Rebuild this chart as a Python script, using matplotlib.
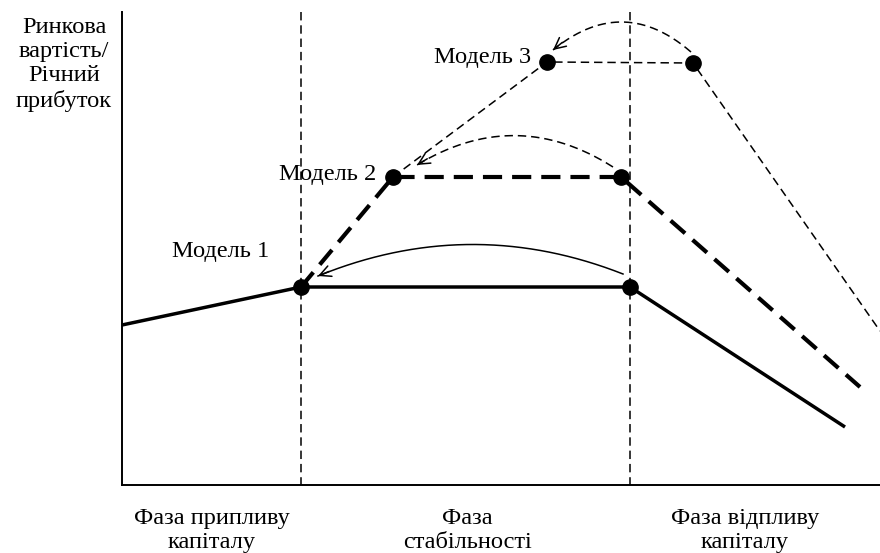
import numpy as np
import matplotlib
matplotlib.use("Agg")
import matplotlib.pyplot as plt

plt.rcParams['font.family'] = ['Liberation Serif', 'DejaVu Serif']

# ---- data (pixel-like schematic units, y grows downward) ----
phase_bounds = [301, 630]
m1_x = [122, 301, 630, 845]
m1_y = [325, 287, 287, 427]
m2_x = [301, 393, 621, 860]
m2_y = [287, 177, 177, 387]
m3_x = [393, 547, 693, 880]
m3_y = [177, 62, 63, 331]
m1_pts_x = [301, 630]
m1_pts_y = [287, 287]
m2_pts_x = [393, 621]
m2_pts_y = [177, 177]
m3_pts_x = [547, 693]
m3_pts_y = [62, 63]
# arcs: (x_start, y_start, x_end, y_end, rad)
arc1 = (623, 274, 318, 276, 0.20)
arc2 = (613, 167, 417, 165, 0.31)
arc3 = (691, 52, 553, 50, 0.42)
model_labels = ["Модель 1", "Модель 2", "Модель 3"]
model_label_x = [221, 328, 483]
model_label_y = [257, 180, 63]
phase_labels = ["Фаза припливу\nкапіталу", "Фаза\nстабільності", "Фаза відпливу\nкапіталу"]
phase_label_x = [212, 467, 745]
ylabel_text = "Ринкова\nвартість/\nРічний\nприбуток"

W, H = 880, 553
fig = plt.figure(figsize=(W / 100, H / 100), dpi=100)
x0, x1, y0, y1 = 122, 880, 12, 485
ax = fig.add_axes([x0 / W, 1 - y1 / H, (x1 - x0) / W, (y1 - y0) / H])
ax.set_xlim(x0, x1)
ax.set_ylim(y1, y0)
for s in ['top', 'right']:
    ax.spines[s].set_visible(False)
for s in ['left', 'bottom']:
    ax.spines[s].set_linewidth(1.4)
ax.set_xticks([])
ax.set_yticks([])

# phase boundaries
for xb in phase_bounds:
    ax.plot([xb, xb], [y0, y1], color='black', lw=1.1, dashes=(5.5, 3.2), clip_on=False)

# Model 1 solid
ax.plot(m1_x, m1_y, color='black', lw=2.5, solid_capstyle='butt', clip_on=False)
# Model 2 thick dashed
ax.plot(m2_x, m2_y, color='black', lw=3.0, dashes=(4.6, 2.4), clip_on=False)
# Model 3 thin dashed
ax.plot(m3_x, m3_y, color='black', lw=1.1, dashes=(5.5, 3.2), clip_on=False)

# points
for px, py in [(m1_pts_x, m1_pts_y), (m2_pts_x, m2_pts_y), (m3_pts_x, m3_pts_y)]:
    ax.plot(px, py, 'o', color='black', ms=11, zorder=5, clip_on=False)


def draw_arc(a, ls):
    xs, ys, xe, ye, rad = a
    P0 = np.array([xs, ys], float)
    P2 = np.array([xe, ye], float)
    mid = (P0 + P2) / 2
    dx, dy = P2 - P0
    C = np.array([mid[0] - rad * dy, mid[1] + rad * dx])
    t = np.linspace(0, 1, 200)[:, None]
    B = (1 - t) ** 2 * P0 + 2 * (1 - t) * t * C + t ** 2 * P2
    if ls == '-':
        ax.plot(B[:, 0], B[:, 1], color='black', lw=1.1, clip_on=False)
    else:
        ax.plot(B[:, 0], B[:, 1], color='black', lw=1.1, dashes=(5.5, 3.2), clip_on=False)
    d = P2 - C
    d = d / np.hypot(*d)
    tail = P2 - d * 12
    ax.annotate('', xy=tuple(P2), xytext=tuple(tail),
                arrowprops=dict(arrowstyle='->', lw=1.1, color='black',
                                mutation_scale=20, shrinkA=0, shrinkB=0))


draw_arc(arc1, '-')
draw_arc(arc2, '--')
draw_arc(arc3, '--')

fs = 17.6
for lab, lx, ly in zip(model_labels, model_label_x, model_label_y):
    ax.text(lx, ly, lab, fontsize=fs, ha='center', va='baseline', clip_on=False)

for lab, lx in zip(phase_labels, phase_label_x):
    ax.text(lx, 508, lab, fontsize=fs, ha='center', va='top', linespacing=1.2,
            clip_on=False)

ax.text(64, 17, ylabel_text, fontsize=fs, ha='center', va='top', linespacing=1.2,
        clip_on=False)

fig.savefig('out.png', dpi=100)
